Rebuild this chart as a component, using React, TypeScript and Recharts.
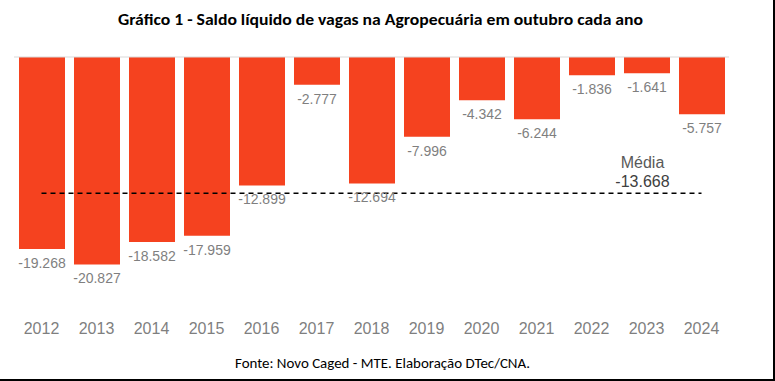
import { Bar, ComposedChart, LabelList, Line, ReferenceLine, XAxis, YAxis } from "recharts";

const anos = ["2012", "2013", "2014", "2015", "2016", "2017", "2018", "2019", "2020", "2021", "2022", "2023", "2024"];
const saldo = [-19268, -20827, -18582, -17959, -12899, -2777, -12694, -7996, -4342, -6244, -1836, -1641, -5757];
const MEDIA = -13668;

const titulo = "Gráfico 1 - Saldo líquido de vagas na Agropecuária em outubro cada ano";
const fonte = "Fonte: Novo Caged - MTE. Elaboração DTec/CNA.";

const data = anos.map((ano, i) => ({ ano, saldo: saldo[i], media: MEDIA }));

const ARIAL = "'Liberation Sans', Arial, sans-serif";
const CALIBRI = "Carlito, 'Open Sans', sans-serif";

// pt-BR style thousands separator
const fmt = (v: number) => {
  const s = Math.abs(v).toString().replace(/\B(?=(\d{3})+(?!\d))/g, ".");
  return (v < 0 ? "-" : "") + s;
};

function ValueLabel(props: any) {
  const { x, y, width, height, value } = props;
  const bottom = Math.max(y, y + height);
  return (
    <text x={x + width / 2} y={bottom + 19} textAnchor="middle" fill="#7f7f7f" fontSize={14} fontFamily={ARIAL}>
      {fmt(value)}
    </text>
  );
}

function MediaLabel(props: any) {
  const { x, y, index } = props;
  if (index !== 11) return null;
  return (
    <g fontFamily={ARIAL} fontSize={16} textAnchor="middle">
      <text x={x - 4} y={y - 25} fill="#595959">Média</text>
      <text x={x - 4} y={y - 6} fill="#404040">{fmt(MEDIA)}</text>
    </g>
  );
}

export default function App() {
  return (
    <div style={{ position: "absolute", left: 0, top: 0, width: 775, height: 381, background: "#fff" }}>
      <ComposedChart width={775} height={381} data={data} margin={{ top: 57, right: 46, left: 14, bottom: 45 }}>
        <XAxis
          dataKey="ano"
          axisLine={false}
          tickLine={false}
          tickSize={0}
          tickMargin={17}
          height={30}
          interval={0}
          tick={{ fill: "#7f7f7f", fontSize: 16, fontFamily: ARIAL }}
        />
        <YAxis hide domain={[-25000, 0]} />
        <ReferenceLine y={0} stroke="#d9d9d9" strokeWidth={1} />
        <Bar dataKey="saldo" fill="#f5421f" barSize={46} isAnimationActive={false}>
          <LabelList dataKey="saldo" content={ValueLabel} />
        </Bar>
        <Line
          dataKey="media"
          stroke="#000"
          strokeWidth={1.5}
          strokeDasharray="5 4"
          dot={false}
          activeDot={false}
          isAnimationActive={false}
        >
          <LabelList dataKey="media" content={MediaLabel} />
        </Line>
      </ComposedChart>
      <svg width={775} height={381} style={{ position: "absolute", left: 0, top: 0, pointerEvents: "none" }}>
        <text x={118} y={25} fontFamily={CALIBRI} fontWeight="bold" fontSize={16} fill="#000" textLength={525} lengthAdjust="spacingAndGlyphs">
          {titulo}
        </text>
        <text x={235} y={368} fontFamily={CALIBRI} fontSize={14} fill="#000" textLength={295} lengthAdjust="spacingAndGlyphs">
          {fonte}
        </text>
        <line x1={774} y1={0} x2={774} y2={381} stroke="#000" strokeWidth={2} />
        <line x1={0} y1={380} x2={775} y2={380} stroke="#000" strokeWidth={2} />
      </svg>
    </div>
  );
}
